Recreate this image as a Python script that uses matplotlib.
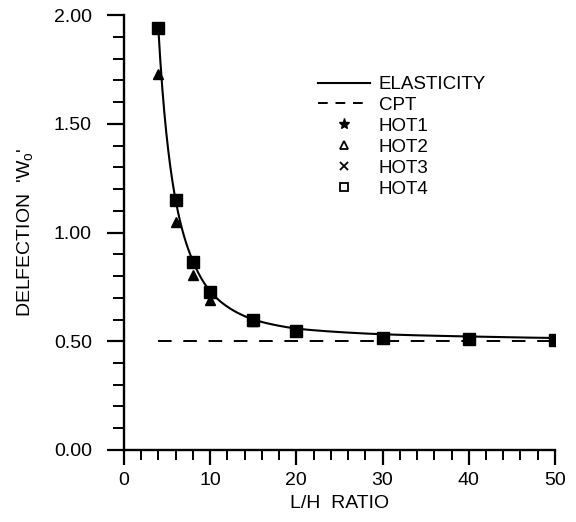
import matplotlib
matplotlib.use('Agg')
import matplotlib.pyplot as plt
from matplotlib.lines import Line2D
from matplotlib.ticker import MultipleLocator
import numpy as np

plt.rcParams['font.family'] = ['Liberation Sans', 'DejaVu Sans']

# L/H ratios
lh = [4, 6, 8, 10, 15, 20, 30, 40, 50]
# elasticity (smooth curve through these)
elast = [1.94, 1.15, 0.87, 0.73, 0.60, 0.558, 0.532, 0.522, 0.515]
cpt_x = [4, 50]
cpt_y = [0.50, 0.50]
hot1 = [1.94, 1.15, 0.865, 0.725, 0.598, 0.548, 0.515, 0.510, 0.506]
hot2 = [1.73, 1.05, 0.805, 0.690, 0.592, 0.545, 0.515, 0.510, 0.506]
hot3 = [1.94, 1.15, 0.865, 0.725, 0.598, 0.548, 0.515, 0.510, 0.506]
hot4 = [1.94, 1.15, 0.865, 0.725, 0.598, 0.548, 0.515, 0.510, 0.506]

fig = plt.figure(figsize=(5.76, 5.22), dpi=100)
ax = fig.add_axes([0.215, 0.138, 0.7485, 0.833])

# smooth curve: interpolate in log-log space between the read points
xs = np.linspace(lh[0], lh[-1], 400)
ys = np.exp(np.interp(np.log(xs), np.log(lh), np.log(np.array(elast) - 0.49))) + 0.49
ax.plot(xs, ys, color='k', lw=1.5)
ax.plot(cpt_x, cpt_y, color='k', lw=1.4, dashes=(7, 6))

ax.plot(lh, hot2, ls='none', marker='^', ms=7.5, color='k')
ax.plot(lh, hot4, ls='none', marker='s', ms=8, color='k')
ax.plot(lh, hot1, ls='none', marker='*', ms=8, color='k')
ax.plot(lh, hot3, ls='none', marker='x', ms=7, color='k', mew=1.5)

ax.set_xlim(0, 50)
ax.set_ylim(0, 2.0)
ax.xaxis.set_major_locator(MultipleLocator(10))
ax.xaxis.set_minor_locator(MultipleLocator(2))
ax.yaxis.set_major_locator(MultipleLocator(0.5))
ax.yaxis.set_minor_locator(MultipleLocator(0.1))
ax.yaxis.set_major_formatter(matplotlib.ticker.FormatStrFormatter('%.2f'))

for s in ['top', 'right']:
    ax.spines[s].set_visible(False)
for s in ['left', 'bottom']:
    ax.spines[s].set_linewidth(1.7)

ax.tick_params(axis='y', which='major', length=12, width=1.6, pad=11, labelsize=14)
ax.tick_params(axis='y', which='minor', length=8, width=1.4)
ax.tick_params(axis='x', which='major', length=11, width=1.6, pad=5, labelsize=14)
ax.tick_params(axis='x', which='minor', length=7, width=1.4)

ax.set_xlabel('L/H  RATIO', fontsize=14, labelpad=4)
ax.set_ylabel("DELFECTION  'W$_\\mathregular{o}$'", fontsize=14, labelpad=13)

handles = [
    Line2D([], [], color='k', lw=1.5),
    Line2D([], [], color='k', lw=1.4, dashes=(5, 4)),
    Line2D([], [], ls='none', marker='*', ms=8, color='k'),
    Line2D([], [], ls='none', marker='^', ms=6, mfc='none', mec='k', mew=1.3),
    Line2D([], [], ls='none', marker='x', ms=6, color='k', mew=1.3),
    Line2D([], [], ls='none', marker='s', ms=6, mfc='none', mec='k', mew=1.3),
]
labels = ['ELASTICITY', 'CPT', 'HOT1', 'HOT2', 'HOT3', 'HOT4']
ax.legend(handles, labels, loc='upper left', bbox_to_anchor=(0.45, 0.86),
          frameon=False, fontsize=13.5, handlelength=2.8, handletextpad=0.45,
          labelspacing=0.2, borderaxespad=0, borderpad=0)

fig.savefig('out.png', dpi=100)
